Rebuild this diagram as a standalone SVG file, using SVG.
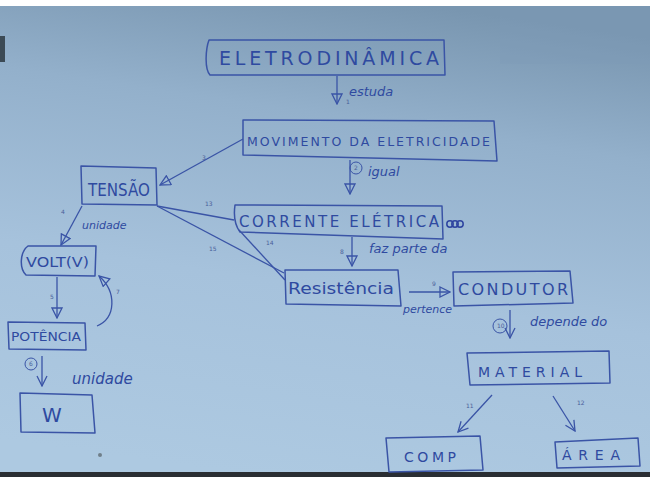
<svg xmlns="http://www.w3.org/2000/svg" width="650" height="477" viewBox="0 0 650 477">
<defs>
<linearGradient id="bg" x1="0.6" y1="0" x2="0.4" y2="1">
<stop offset="0" stop-color="#7996b0"/>
<stop offset="0.25" stop-color="#93b0cb"/>
<stop offset="0.6" stop-color="#a6c2dc"/>
<stop offset="1" stop-color="#adc9e1"/>
</linearGradient>
<marker id="tri" viewBox="0 0 12 12" refX="11" refY="6" markerWidth="12" markerHeight="12" markerUnits="userSpaceOnUse" orient="auto">
<path d="M1,1 L11,6 L1,11 Z" fill="none" stroke="#3a54a6" stroke-width="1.3"/>
</marker>
<marker id="open" viewBox="0 0 12 12" refX="11" refY="6" markerWidth="12" markerHeight="12" markerUnits="userSpaceOnUse" orient="auto">
<path d="M1,1 L11,6 L1,11" fill="none" stroke="#3a54a6" stroke-width="1.3"/>
</marker>
</defs>
<style>
.box{fill:none;stroke:#3a54a6;stroke-width:1.5;stroke-linejoin:round}
.ln{fill:none;stroke:#3a54a6;stroke-width:1.3}
.t{font-family:"DejaVu Sans",sans-serif;fill:#2f4aa0;font-weight:normal}
.cap{font-size:16px}
.lbl{font-size:13px;font-style:italic}
.num{font-size:6px;fill:#4a5f9a;font-family:"DejaVu Sans",sans-serif}
</style>
<rect width="650" height="477" fill="url(#bg)"/>
<rect x="500" y="6" width="150" height="58" fill="#7f9cb6" opacity="0.35"/>
<rect width="650" height="6" fill="#ffffff"/>
<rect x="0" y="36" width="5" height="26" fill="#3c4a55"/>
<rect x="0" y="472" width="650" height="5" fill="#2a2e33"/>
<circle cx="100" cy="455" r="2" fill="#6f7f8a"/>

<g id="connectors">
<line class="ln" x1="337" y1="76" x2="337" y2="104" marker-end="url(#tri)"/>
<text class="t lbl" x="349" y="96">estuda</text>
<text class="num" x="346" y="104">1</text>

<line class="ln" x1="243" y1="139" x2="160" y2="185" marker-end="url(#tri)"/>
<text class="num" x="202" y="160">3</text>

<line class="ln" x1="350" y1="160" x2="350" y2="194" marker-end="url(#tri)"/>
<circle cx="356" cy="168" r="6" fill="none" stroke="#3a54a6" stroke-width="1"/>
<text class="num" x="354" y="170">2</text>
<text class="t lbl" x="368" y="176">igual</text>

<line class="ln" x1="234" y1="220" x2="157" y2="206"/>
<text class="num" x="205" y="206">13</text>
<line class="ln" x1="157" y1="206" x2="284" y2="273"/>
<text class="num" x="209" y="251">15</text>
<line class="ln" x1="239" y1="230" x2="285" y2="280"/>
<text class="num" x="266" y="245">14</text>

<line class="ln" x1="352" y1="237" x2="352" y2="266" marker-end="url(#tri)"/>
<text class="num" x="340" y="254">8</text>
<text class="t lbl" x="369" y="253">faz parte da</text>

<line class="ln" x1="409" y1="292" x2="450" y2="292" marker-end="url(#tri)"/>
<text class="num" x="432" y="286">9</text>
<text class="t lbl" x="403" y="313" style="font-size:11px">pertence</text>

<line class="ln" x1="510" y1="310" x2="510" y2="338" marker-end="url(#open)"/>
<circle cx="500" cy="326" r="7" fill="none" stroke="#3a54a6" stroke-width="1"/>
<text class="num" x="497" y="328">10</text>
<text class="t lbl" x="530" y="326">depende do</text>

<line class="ln" x1="492" y1="395" x2="458" y2="432" marker-end="url(#open)"/>
<text class="num" x="466" y="408">11</text>
<line class="ln" x1="553" y1="396" x2="575" y2="431" marker-end="url(#open)"/>
<text class="num" x="577" y="405">12</text>

<line class="ln" x1="82" y1="206" x2="61" y2="245" marker-end="url(#tri)"/>
<text class="num" x="61" y="214">4</text>
<text class="t lbl" x="82" y="229" style="font-size:11px">unidade</text>

<line class="ln" x1="57" y1="277" x2="57" y2="318" marker-end="url(#tri)"/>
<text class="num" x="50" y="299">5</text>

<path class="ln" d="M97,326 C116,318 117,292 99,276" marker-end="url(#tri)"/>
<text class="num" x="116" y="294">7</text>

<line class="ln" x1="42" y1="356" x2="42" y2="386" marker-end="url(#open)"/>
<circle cx="31" cy="364" r="6" fill="none" stroke="#3a54a6" stroke-width="1"/>
<text class="num" x="29" y="366">6</text>
<text class="t lbl" x="72" y="384" style="font-size:15px">unidade</text>
</g>

<g id="eletrodinamica">
<path class="box" d="M209,40 L444,40 L445,75 L210,75 C204,68 206,48 209,40 Z"/>
<text class="t cap" x="219" y="65" textLength="220" lengthAdjust="spacing" style="font-size:19px">ELETRODINÂMICA</text>
</g>
<g id="movimento">
<path class="box" d="M243,120 L494,121 L497,161 L243,155 Z"/>
<text class="t cap" x="247" y="146" textLength="243" lengthAdjust="spacing" style="font-size:12.5px">MOVIMENTO DA ELETRICIDADE</text>
</g>
<g id="tensao">
<path class="box" d="M81,166 L156,168 L157,205 L82,204 Z"/>
<text class="t cap" x="88" y="196" textLength="62" lengthAdjust="spacingAndGlyphs" style="font-size:17px">TENSÃO</text>
</g>
<g id="corrente">
<path class="box" d="M235,205 L442,206 L443,239 L240,232 C234,224 234,212 235,205 Z"/>
<text class="t cap" x="239" y="227" textLength="200" lengthAdjust="spacing" style="font-size:15px">CORRENTE ELÉTRICA</text>
<circle cx="450" cy="224" r="3.2" fill="none" stroke="#2e44a0" stroke-width="1.5"/>
<circle cx="455" cy="224" r="3.2" fill="none" stroke="#2e44a0" stroke-width="1.5"/>
<circle cx="460" cy="224" r="3.2" fill="none" stroke="#2e44a0" stroke-width="1.5"/>
</g>
<g id="resistencia">
<path class="box" d="M285,270 L398,270 L401,306 L286,304 Z"/>
<text class="t" x="288" y="294" textLength="106" lengthAdjust="spacingAndGlyphs" style="font-size:15px">Resistência</text>
</g>
<g id="condutor">
<path class="box" d="M453,272 L570,271 L573,303 L454,306 Z"/>
<text class="t cap" x="458" y="295" textLength="110" lengthAdjust="spacing" style="font-size:16px">CONDUTOR</text>
</g>
<g id="material">
<path class="box" d="M467,353 L609,351 L610,383 L470,385 Z"/>
<text class="t cap" x="478" y="377" textLength="104" lengthAdjust="spacing" style="font-size:14px">MATERIAL</text>
</g>
<g id="comp">
<path class="box" d="M386,438 L480,436 L483,470 L389,472 Z"/>
<text class="t cap" x="404" y="462" textLength="52" lengthAdjust="spacing" style="font-size:14px">COMP</text>
</g>
<g id="area">
<path class="box" d="M555,442 L638,438 L640,466 L557,468 Z"/>
<text class="t cap" x="562" y="460" textLength="58" lengthAdjust="spacing" style="font-size:14px">ÁREA</text>
</g>
<g id="volt">
<path class="box" d="M28,246 L96,246 L95,276 L26,275 C19,268 20,252 28,246 Z"/>
<text class="t cap" x="26" y="267" textLength="63" lengthAdjust="spacingAndGlyphs" style="font-size:14px">VOLT(V)</text>
</g>
<g id="potencia">
<path class="box" d="M8,322 L85,323 L86,350 L9,349 Z"/>
<text class="t cap" x="11" y="341" textLength="70" lengthAdjust="spacingAndGlyphs" style="font-size:12px">POTÊNCIA</text>
</g>
<g id="w">
<path class="box" d="M20,393 L92,395 L95,433 L21,432 Z"/>
<text class="t cap" x="52" y="422" text-anchor="middle" style="font-size:20px">W</text>
</g>
</svg>
